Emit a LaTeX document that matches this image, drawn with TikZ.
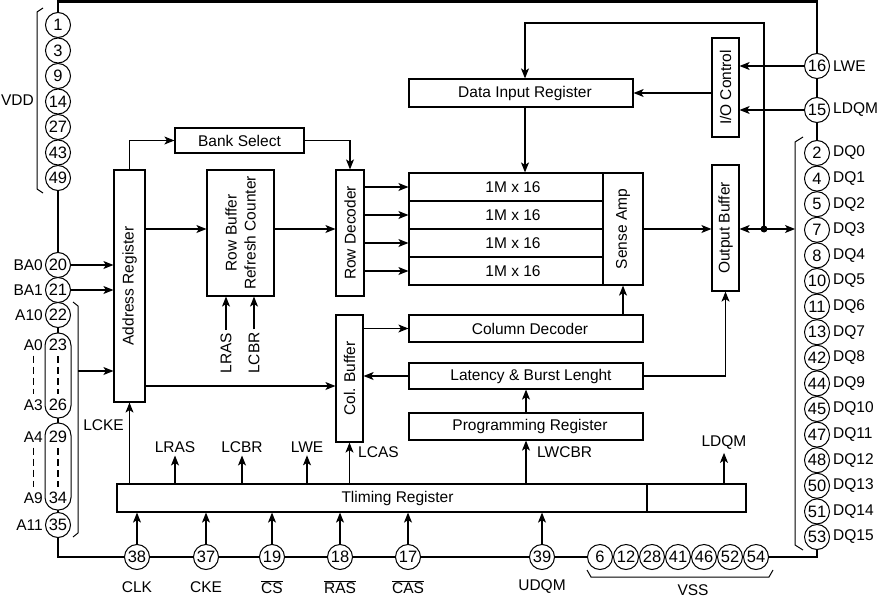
\documentclass[tikz,border=0pt]{standalone}
\usepackage{fontspec}
\setmainfont{Liberation Sans}
\usetikzlibrary{arrows.meta,calc}
\newcommand{\ovl}[1]{\ensuremath{\overline{\hbox{#1}}}}
\begin{document}
\begin{tikzpicture}[x=1pt,y=-1pt,
  every node/.style={font=\fontsize{15.5}{19}\selectfont, inner sep=0pt},
  box/.style={draw, line width=1.2pt, fill=white},
  pinc/.style={circle, draw, line width=1pt, fill=white, minimum size=25pt, inner sep=0pt, font=\fontsize{16.5}{19}\selectfont},
  pnum/.style={font=\fontsize{16.5}{19}\selectfont},
  oval/.style={draw, line width=1pt, fill=white, rounded corners=12.5pt, minimum width=26pt, inner sep=0pt},
  conn/.style={line width=1.2pt, -{Stealth[length=10pt,width=8pt,inset=2.5pt]}},
  chip/.style={line width=2.8pt},
  brk/.style={line width=1pt},
  vtext/.style={rotate=90, align=center},
  lbl/.style={outer sep=3pt},
  dsh/.style={line width=1.4pt, dash pattern=on 7pt off 4pt},
]
\useasboundingbox (0,0) rectangle (880,599);
% chip outline
\draw[chip] (58,1.4) rectangle (817,557);

% ---------- boxes ----------
\node[box, minimum width=31pt, minimum height=232pt] (addr) at (129.5,286) {};
\node[vtext] (addrt) at (addr.center) {Address Register};
\node[box, minimum width=129pt, minimum height=25pt] (bank) at (239.5,140.5) {Bank Select};
\node[box, minimum width=67pt, minimum height=126pt] (rowbuf) at (240.5,233) {};
\node[vtext] (rowbuft) at (rowbuf.center) {Row Buffer\\Refresh Counter};
\node[box, minimum width=28pt, minimum height=126pt] (rowdec) at (350,233) {};
\node[vtext] (rowdect) at (rowdec.center) {Row Decoder};
\foreach \i/\y in {1/187,2/215,3/243,4/271}
  \node[box, minimum width=194pt, minimum height=28pt] (m\i) at (506,\y) {\hspace*{14pt}1M x 16};
\node[box, minimum width=40pt, minimum height=112pt] (sense) at (623,229) {};
\node[vtext] (senset) at (sense.center) {Sense Amp};
\node[box, minimum width=224pt, minimum height=28pt] (dir) at (521,93) {\hspace*{8pt}Data Input Register};
\node[box, minimum width=27pt, minimum height=99pt] (ioc) at (725.5,87.5) {};
\node[vtext] (ioct) at (ioc.center) {I/O Control};
\node[box, minimum width=27pt, minimum height=126pt] (outbuf) at (725.5,228) {};
\node[vtext] (outbuft) at (outbuf.center) {Output Buffer};
\node[box, minimum width=234pt, minimum height=27pt] (coldec) at (526,328.5) {\hspace*{8pt}Column Decoder};
\node[box, minimum width=234pt, minimum height=26pt] (latency) at (526,376) {\hspace*{10pt}Latency \& Burst Lenght};
\node[box, minimum width=234pt, minimum height=27pt] (prog) at (526,426.5) {\hspace*{8pt}Programming Register};
\node[box, minimum width=27pt, minimum height=127pt] (colbuf) at (349.5,378.5) {};
\node[vtext] (colbuft) at (colbuf.center) {Col. Buffer};
\node[box, minimum width=530pt, minimum height=28pt] (timing) at (382,498) {};
\node[box, minimum width=99pt, minimum height=28pt] (timing2) at (696.5,498) {};
\node (timingt) at (397.5,498) {Tliming Register};

% ---------- left pins ----------
\foreach \n/\y in {1/25,3/50.5,9/76,14/101.5,27/127,43/152.5,49/178}
  \node[pinc] (p\n) at (58,\y) {\n};
\node[anchor=east] (lvdd) at (34,100) {VDD};
\draw[brk] (43,8) -- (37,12) -- (37,189) -- (43,193);
\node[pinc] (p20) at (58,265) {20};
\node[pinc] (p21) at (58,290) {21};
\node[pinc] (p22) at (58,315) {22};
\node[oval, minimum height=85pt] (ova) at (58,375.5) {};
\node[oval, minimum height=87pt] (ovb) at (58,466.5) {};
\node[pnum] (t23) at (58,345) {23};
\node[pnum] (t26) at (58,405) {26};
\node[pnum] (t29) at (58,437) {29};
\node[pnum] (t34) at (58,498) {34};
\node[pinc] (p35) at (58,525) {35};
\draw[dsh] ([yshift=-5pt]t23.south) -- ([yshift=5pt]t26.north);
\draw[dsh] ([yshift=-5pt]t29.south) -- ([yshift=5pt]t34.north);
\node[anchor=east] (lba0) at (43,265) {BA0};
\node[anchor=east] (lba1) at (43,290) {BA1};
\node[anchor=east] (la10) at (43,315) {A10};
\node[anchor=east] (la0) at (43,345) {A0};
\node[anchor=east] (la3) at (43,405) {A3};
\node[anchor=east] (la4) at (43,437) {A4};
\node[anchor=east] (la9) at (43,498) {A9};
\node[anchor=east] (la11) at (43,525) {A11};
\draw[dsh] ([yshift=-5pt]la0.south) -- ([yshift=5pt]la3.north);
\draw[dsh] ([yshift=-5pt]la4.south) -- ([yshift=5pt]la9.north);
\draw[brk] (73,302) -- (78,306) -- (78,533) -- (73,537);
\coordinate (abr) at (78,371);

% ---------- right pins ----------
\node[pinc] (p16) at (817,66) {16};
\node[pinc] (p15) at (817,110) {15};
\node[anchor=west] (llwe) at (833,66) {LWE};
\node[anchor=west] (lldqm) at (833,110) {LDQM};
\foreach \n/\k in {2/0,4/1,5/2,7/3,8/4,10/5,11/6,13/7,42/8,44/9,45/10,47/11,48/12,50/13,51/14,53/15} {
  \node[pinc] (p\n) at (817,{153+25.6*\k}) {\n};
  \node[anchor=west] (ldq\k) at (833,{153+25.6*\k}) {DQ\k};
}
\draw[brk] (803,137) -- (795,142) -- (795,545) -- (803,550);
\coordinate (dqb) at (795,229);

% ---------- bottom pins ----------
\foreach \n/\x in {38/137,37/206,19/272,18/340,17/408,39/542}
  \node[pinc] (p\n) at (\x,557) {\n};
\foreach \n/\x in {6/600,12/626,28/652,41/678,46/704,52/730,54/756}
  \node[pinc] (v\n) at (\x,557) {\n};
\node (lclk) at (137,587) {CLK};
\node (lcke) at (206,587) {CKE};
\node (lcs) at (272,587) {\ovl{CS}};
\node (lras) at (340,587) {\ovl{RAS}};
\node (lcas) at (408,587) {\ovl{CAS}};
\node (ludqm) at (542,587) {UDQM};
\draw[brk] (587,570) -- (591,577) -- (769,577) -- (773,570);
\node (lvss) at (693,590) {VSS};

% ---------- connectors ----------
\draw[conn] (p20.east) -- (p20.east -| addr.west);
\draw[conn] (p21.east) -- (p21.east -| addr.west);
\draw[conn] (abr) -- (abr -| addr.west);
\draw[conn] (addr.north) |- (bank.west);
\draw[conn] (bank.east) -| (rowdec.north);
\coordinate (ry) at (0,229);
\draw[conn] (addr.east |- ry) -- (rowbuf.west |- ry);
\draw[conn] (rowbuf.east |- ry) -- (rowdec.west |- ry);
\foreach \i in {1,2,3,4}
  \draw[conn] (rowdec.east |- m\i.west) -- (m\i.west);
\coordinate (fb) at (525,23);
\coordinate (dot) at (764,229);
\draw[conn] (dot) -- (dot |- fb) -- (fb) -- (fb |- dir.north);
\draw[conn] (fb |- dir.south) -- (fb |- m1.north);
\draw[conn] (ioc.west |- dir.east) -- (dir.east);
\draw[conn] (p16.west) -- (p16.west -| ioc.east);
\draw[conn] (p15.west) -- (p15.west -| ioc.east);
\draw[conn] (sense.east) -- (sense.east -| outbuf.west);
\draw[conn] (dot) -- (dot -| outbuf.east);
\draw[conn] (dot) -- (dqb);
\fill (dot) circle (3.5pt);
\draw[conn] (sense.south |- coldec.north) -- (sense.south);
\draw[conn] (colbuf.east |- coldec.west) -- (coldec.west);
\draw[conn] (latency.west) -- (latency.west -| colbuf.east);
\coordinate (cy) at (0,386);
\draw[conn] (addr.east |- cy) -- (colbuf.west |- cy);
\draw[conn] (prog.north) -- (latency.south);
\draw[conn] (latency.east) -| (outbuf.south);

% row buffer control inputs
\node[vtext, lbl] (vlras) at (226,353) {LRAS};
\node[vtext, lbl] (vlcbr) at (254,353) {LCBR};
\draw[conn] (vlras.east) -- (vlras.east |- rowbuf.south);
\draw[conn] (vlcbr.east) -- (vlcbr.east |- rowbuf.south);

% timing register outputs
\draw[conn] (timing.north -| addr.south) -- (addr.south);
\node[anchor=east] (llcke) at (124,425) {LCKE};
\node[lbl] (olras) at (175,447) {LRAS};
\node[lbl] (olcbr) at (242,447) {LCBR};
\node[lbl] (olwe) at (307,447) {LWE};
\node[lbl] (oldqm) at (724,443) {LDQM};
\draw[conn] (timing.north -| olras.south) -- (olras.south);
\draw[conn] (timing.north -| olcbr.south) -- (olcbr.south);
\draw[conn] (timing.north -| olwe.south) -- (olwe.south);
\draw[conn] (timing2.north -| oldqm.south) -- (oldqm.south);
\draw[conn] (timing.north -| colbuf.south) -- (colbuf.south);
\node[anchor=west] (llcas) at (358,452) {LCAS};
\draw[conn] (timing.north -| prog.south) -- (prog.south);
\node[anchor=west] (llwcbr) at (537,452) {LWCBR};

% pins into timing register
\foreach \p in {p38,p37,p19,p18,p17,p39}
  \draw[conn] (\p.north) -- (\p.north |- timing.south);
\end{tikzpicture}
\end{document}
